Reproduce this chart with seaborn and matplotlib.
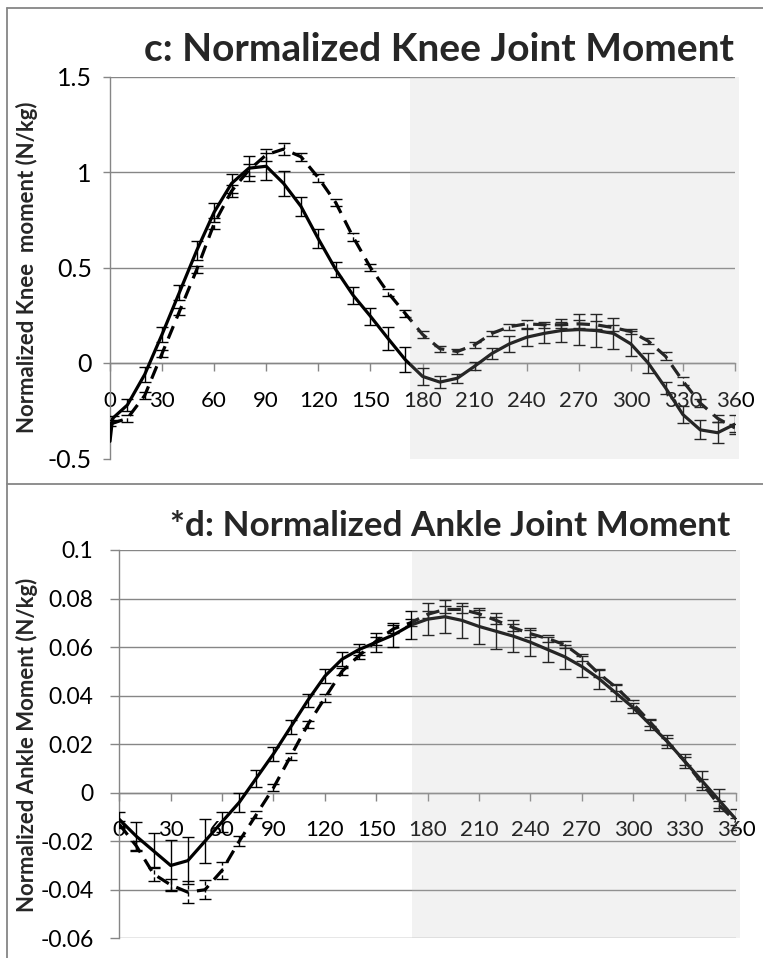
import numpy as np
import pandas as pd
import matplotlib
matplotlib.use("Agg")
import matplotlib.pyplot as plt
import seaborn as sns
from matplotlib.patches import Rectangle
from matplotlib.lines import Line2D

# ---------------- data ----------------
x_ticks = [0, 30, 60, 90, 120, 150, 180, 210, 240, 270, 300, 330, 360]
x_tick_labels = [str(v) for v in x_ticks]

knee_y_ticks = [-0.5, 0, 0.5, 1, 1.5]
knee_y_tick_labels = ["-0.5", "0", "0.5", "1", "1.5"]
ankle_y_ticks = [-0.06, -0.04, -0.02, 0, 0.02, 0.04, 0.06, 0.08, 0.1]
ankle_y_tick_labels = ["-0.06", "-0.04", "-0.02", "0", "0.02", "0.04", "0.06", "0.08", "0.1"]

angle = list(range(0, 361, 10))

knee_solid_angle = [0, 1.5] + list(range(10, 361, 10))
knee_solid = [-0.41, -0.29, -0.22, -0.06, 0.15, 0.37, 0.59, 0.79, 0.94, 1.02, 1.03,
              0.94, 0.82, 0.65, 0.49, 0.355, 0.245, 0.13, 0.018, -0.07, -0.10, -0.08,
              -0.017, 0.05, 0.10, 0.135, 0.155, 0.17, 0.175, 0.17, 0.155, 0.10, 0.0,
              -0.13, -0.27, -0.35, -0.365, -0.32]
knee_solid_err = [np.nan, 0.01, 0.03, 0.04, 0.04, 0.04, 0.05, 0.05, 0.05, 0.065, 0.07,
                  0.065, 0.05, 0.05, 0.04, 0.045, 0.045, 0.06, 0.065, 0.045, 0.03, 0.025,
                  0.02, 0.03, 0.04, 0.045, 0.05, 0.06, 0.08, 0.085, 0.08, 0.065, 0.05,
                  0.03, 0.045, 0.05, 0.055, 0.05]

knee_dashed = [-0.32, -0.29, -0.17, 0.05, 0.27, 0.49, 0.73, 0.90, 1.01, 1.09, 1.12,
               1.08, 0.97, 0.84, 0.66, 0.50, 0.37, 0.26, 0.15, 0.075, 0.06, 0.095,
               0.155, 0.19, 0.205, 0.20, 0.20, 0.205, 0.20, 0.185, 0.165, 0.115, 0.035,
               -0.095, -0.21, -0.29, -0.34]
knee_dashed_err = [0.01, 0.02, 0.02, 0.02, 0.02, 0.02, 0.03, 0.03, 0.03, 0.03, 0.03,
                   0.02, 0.02, 0.02, 0.02, 0.02, 0.02, 0.02, 0.02, 0.015, 0.015, 0.015,
                   0.015, 0.015, 0.02, 0.015, 0.015, 0.02, 0.02, 0.015, 0.015, 0.015, 0.02,
                   0.02, 0.02, 0.02, 0.02]

ankle_solid = [-0.011, -0.018, -0.024, -0.030, -0.028, -0.020, -0.012, -0.004, 0.006,
               0.016, 0.027, 0.038, 0.048, 0.055, 0.059, 0.062, 0.065, 0.069, 0.0715,
               0.0725, 0.071, 0.0685, 0.0665, 0.0645, 0.062, 0.059, 0.056, 0.052, 0.047,
               0.041, 0.035, 0.028, 0.021, 0.013, 0.005, -0.003, -0.011]
ankle_solid_err = [0.003, 0.0058, 0.0072, 0.0103, 0.0097, 0.009, 0.004, 0.004, 0.0035,
                   0.0028, 0.003, 0.0028, 0.0028, 0.003, 0.0024, 0.004, 0.005, 0.0058,
                   0.0065, 0.0069, 0.0071, 0.0074, 0.0074, 0.0067, 0.0058, 0.0052, 0.005,
                   0.0045, 0.0041, 0.0034, 0.002, 0.002, 0.0026, 0.003, 0.004, 0.0045, 0.0043]

ankle_dashed = [-0.013, -0.022, -0.0335, -0.038, -0.041, -0.040, -0.032, -0.020, -0.009,
                0.002, 0.015, 0.028, 0.039, 0.050, 0.0565, 0.0625, 0.0675, 0.070, 0.0735,
                0.0755, 0.0755, 0.0737, 0.071, 0.068, 0.0655, 0.0635, 0.061, 0.0558, 0.049,
                0.0434, 0.0366, 0.029, 0.021, 0.013, 0.004, -0.005, -0.012]
ankle_dashed_err = [0.0015, 0.002, 0.003, 0.0025, 0.0045, 0.004, 0.0034, 0.002, 0.0015,
                    0.0015, 0.0015, 0.0015, 0.0015, 0.0015, 0.0015, 0.0015, 0.0015, 0.0015,
                    0.0015, 0.0015, 0.0015, 0.0015, 0.0015, 0.0015, 0.0015, 0.0015, 0.0015,
                    0.0015, 0.0015, 0.0015, 0.0015, 0.0015, 0.0015, 0.0015, 0.0015, 0.0015,
                    0.0015]

shade_knee = (173, 362.5)
shade_ankle = (171, 362.5)

knee_title = "c: Normalized Knee Joint Moment"
ankle_title = "*d: Normalized Ankle Joint Moment"
knee_ylabel = "Normalized Knee  moment (N/kg)"
ankle_ylabel = "Normalized Ankle Moment (N/kg)"

# ---------------- style ----------------
sns.set_style("white")
plt.rcParams["font.family"] = ["Lato", "DejaVu Sans"]

W, H, DPI = 763, 958, 100
fig = plt.figure(figsize=(W / DPI, H / DPI), dpi=DPI)
GRID = "#868686"


def px_rect(l, r, t, b):
    return [l / W, 1 - b / H, (r - l) / W, (b - t) / H]


ax1 = fig.add_axes(px_rect(110, 735, 76.5, 458.5))
ax2 = fig.add_axes(px_rect(119.3, 736, 550, 938.3))


def draw_series(ax, xs, ys, errs, dashed):
    df = pd.DataFrame({"angle": xs, "value": ys, "err": errs})
    sns.lineplot(data=df, x="angle", y="value", ax=ax, color="black", lw=2.3,
                 estimator=None, sort=False, zorder=4)
    line = ax.lines[-1]
    line.set_solid_joinstyle("round")
    if dashed:
        line.set_dashes([4.2, 2.6])
    m = df["err"].notna()
    eb = ax.errorbar(df.loc[m, "angle"], df.loc[m, "value"], yerr=df.loc[m, "err"],
                     fmt="none", ecolor="black", elinewidth=1.0, capsize=4.5,
                     capthick=1.0, zorder=3)
    if dashed:
        for lc in eb[2]:
            lc.set_linestyle((0, (3, 2)))


def style_axes(ax, yticks, ylabels, ylim, ytick_len, ytick_pad, ysize):
    ax.set_xlim(0, 360)
    ax.set_ylim(*ylim)
    ax.set_xticks(x_ticks)
    ax.set_xticklabels(x_tick_labels)
    ax.set_yticks(yticks)
    ax.set_yticklabels(ylabels)
    ax.set_xlabel("")
    ax.set_ylabel("")
    for s in ["top", "right"]:
        ax.spines[s].set_visible(False)
    ax.spines["left"].set_color(GRID)
    ax.spines["left"].set_linewidth(1.0)
    ax.spines["bottom"].set_color(GRID)
    ax.spines["bottom"].set_linewidth(1.0)
    ax.spines["bottom"].set_position(("data", 0))
    ax.yaxis.grid(True, color=GRID, lw=1.0)
    ax.xaxis.grid(False)
    ax.tick_params(axis="x", direction="out", length=6, width=1.0, color=GRID,
                   pad=14, labelsize=16, labelcolor="black", bottom=True)
    ax.tick_params(axis="y", direction="out", length=ytick_len, width=1.0, color=GRID,
                   pad=ytick_pad, labelsize=ysize, labelcolor="black", left=True)
    ax.patch.set_alpha(0)


draw_series(ax1, knee_solid_angle, knee_solid, knee_solid_err, False)
draw_series(ax1, angle, knee_dashed, knee_dashed_err, True)
style_axes(ax1, knee_y_ticks, knee_y_tick_labels, (-0.5, 1.5), 5, 8, 18)

draw_series(ax2, angle, ankle_solid, ankle_solid_err, False)
draw_series(ax2, angle, ankle_dashed, ankle_dashed_err, True)
style_axes(ax2, ankle_y_ticks, ankle_y_tick_labels, (-0.06, 0.1), 6.5, 12, 16.5)

# translucent grey overlay (drawn above the plot, dims lines and labels)
for ax, (s0, s1), (y0, y1) in [(ax1, shade_knee, (-0.5, 1.5)), (ax2, shade_ankle, (-0.06, 0.1))]:
    rect = Rectangle((s0, y0), s1 - s0, y1 - y0, transform=ax.transData,
                     facecolor="#c0c0c0", alpha=0.2, edgecolor="none", zorder=10)
    fig.add_artist(rect)

# frame lines
def fline(x0, y0, x1, y1):
    fig.add_artist(Line2D([x0 / W, x1 / W], [1 - y0 / H, 1 - y1 / H],
                          transform=fig.transFigure, color=GRID, lw=1.3))

fline(6.5, 8, W, 8)
fline(6.5, 8, 6.5, H)
fline(6.5, 484, W, 484)

# titles and y labels
t1 = fig.text(734 / W, 1 - 61 / H, knee_title, ha="right", va="baseline",
              fontsize=22, fontweight="bold")
t2 = fig.text(730 / W, 1 - 536.5 / H, ankle_title, ha="right", va="baseline",
              fontsize=22, fontweight="bold")
yl1 = fig.text(27 / W, 1 - 267 / H, knee_ylabel, rotation=90, ha="center", va="center",
               fontsize=15, fontweight="bold")
yl2 = fig.text(27 / W, 1 - 744.5 / H, ankle_ylabel, rotation=90, ha="center", va="center",
               fontsize=15, fontweight="bold")

fig.canvas.draw()
r = fig.canvas.get_renderer()
def fit(t, target, vertical=False):
    bb = t.get_window_extent(r)
    size = bb.height if vertical else bb.width
    t.set_fontsize(t.get_fontsize() * target / size)

fit(t2, 560)
fit(t1, 590)
fit(yl1, 333, vertical=True)
fit(yl2, 335, vertical=True)

fig.savefig("out.png", dpi=DPI)
